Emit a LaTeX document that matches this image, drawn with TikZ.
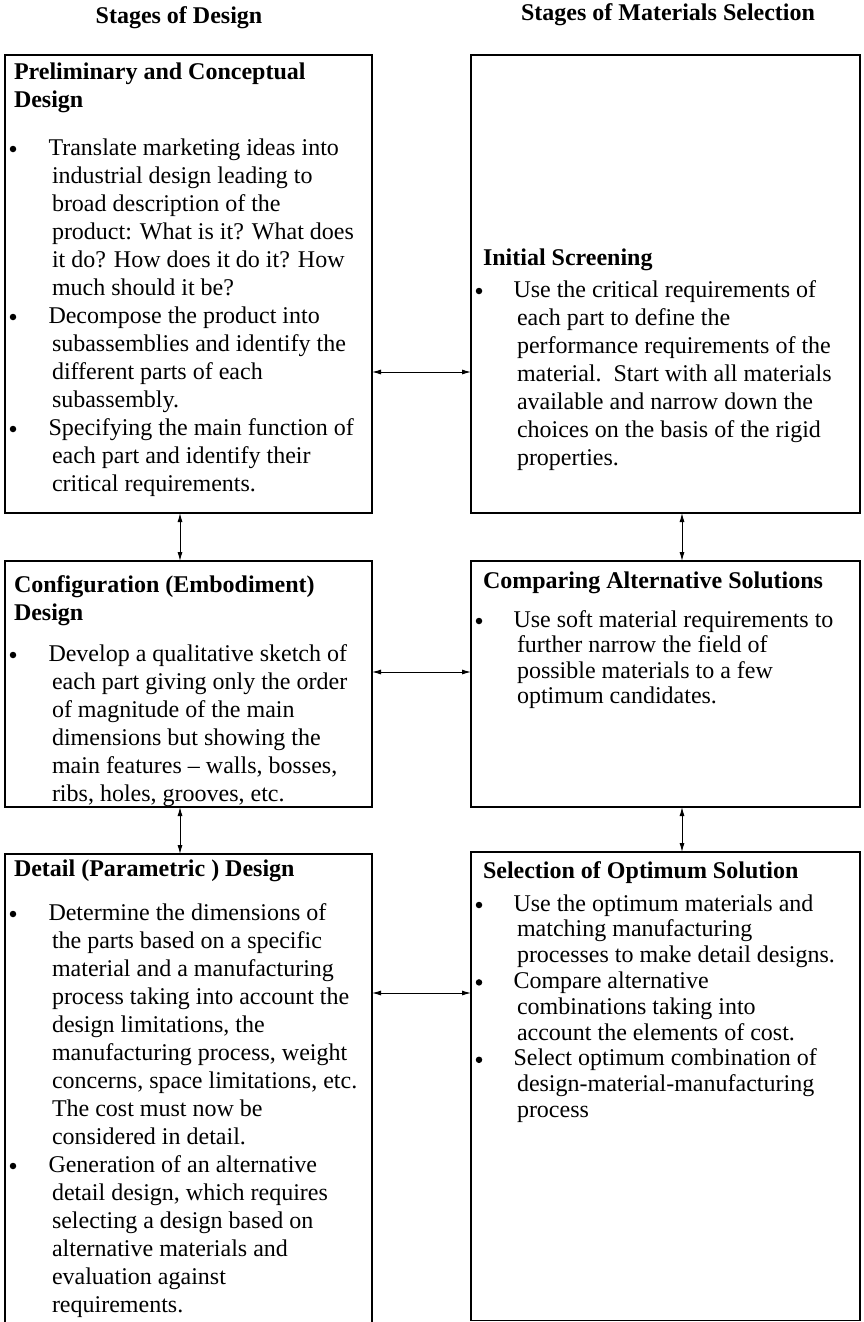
\documentclass[tikz,border=0pt]{standalone}
\usepackage{fontspec}
\setmainfont{Liberation Serif}
\usetikzlibrary{arrows.meta}
\begin{document}
\begin{tikzpicture}[x=1pt,y=-1pt,
  box/.style={draw=black, line width=1.2pt, rectangle, inner sep=0pt, outer sep=0pt, anchor=north west},
  txt/.style={inner sep=0pt, outer sep=0pt, anchor=north west, align=left, font=\fontsize{24}{28}\selectfont},
  txtb/.style={txt, font=\fontsize{24}{28}\selectfont\bfseries},
  txtc/.style={txt, font=\fontsize{24}{25.8}\selectfont},
  txtd/.style={txt, font=\fontsize{24}{25.5}\selectfont},
  hdr/.style={inner sep=0pt, anchor=base, font=\fontsize{24}{28}\selectfont\bfseries},
  dot/.style={circle, fill=black, draw=none, inner sep=0pt, minimum size=6.5pt},
  link/.style={line width=1pt, {Latex[length=9pt,width=5pt]}-{Latex[length=9pt,width=5pt]}}]
\useasboundingbox (0,0) rectangle (863,1322);
\fill[white] (0,0) rectangle (863,1322);

% headers
\node[hdr] (h1) at (179,24) {Stages of Design};
\node[hdr] (h2) at (668,21) {Stages of Materials Selection};

% boxes
\node[box, minimum width=367, minimum height=458] (L1) at (5,55) {};
\node[box, minimum width=389, minimum height=458] (R1) at (471,55) {};
\node[box, minimum width=367, minimum height=246] (L2) at (5,561) {};
\node[box, minimum width=389, minimum height=246] (R2) at (471,561) {};
\node[box, minimum width=367, minimum height=480] (L3) at (5,854) {};
\node[box, minimum width=389, minimum height=468.5] (R3) at (471,852) {};

% box L1
\node[txtb] (L1t) at (14,79-19.6) {\strut Preliminary and Conceptual\\Design};
\node[dot] (L1b1) at (13,149) {};
\node[txt] (L1p1) at (52,155-19.6) {\strut\hspace*{-3.5pt}Translate marketing ideas into\\industrial design leading to\\broad description of the\\product: What is it? What does\\it do? How does it do it? How\\much should it be?};
\node[dot] (L1b2) at (13,317) {};
\node[txt] (L1p2) at (52,323-19.6) {\strut\hspace*{-3.5pt}Decompose the product into\\subassemblies and identify the\\different parts of each\\subassembly.};
\node[dot] (L1b3) at (13,429) {};
\node[txt] (L1p3) at (52,435-19.6) {\strut\hspace*{-3.5pt}Specifying the main function of\\each part and identify their\\critical requirements.};

% box R1
\node[txtb] (R1t) at (483,265-19.6) {\strut Initial Screening};
\node[dot] (R1b1) at (479,291) {};
\node[txt] (R1p1) at (517,297-19.6) {\strut\hspace*{-3.5pt}Use the critical requirements of\\each part to define the\\performance requirements of the\\material.\ \ Start with all materials\\available and narrow down the\\choices on the basis of the rigid\\properties.};

% box R2
\node[txtb] (R2t) at (483,588-19.6) {\strut Comparing Alternative Solutions};
\node[dot] (R2b1) at (479,621) {};
\node[txtd] (R2p1) at (517,627-17.85) {\strut\hspace*{-3.5pt}Use soft material requirements to\\further narrow the field of\\possible materials to a few\\optimum candidates.};

% box L2
\node[txtb] (L2t) at (14,592-19.6) {\strut Configuration (Embodiment)\\Design};
\node[dot] (L2b1) at (13,655) {};
\node[txt] (L2p1) at (52,661-19.6) {\strut\hspace*{-3.5pt}Develop a qualitative sketch of\\each part giving only the order\\of magnitude of the main\\dimensions but showing the\\main features – walls, bosses,\\ribs, holes, grooves, etc.};

% box L3
\node[txtb] (L3t) at (14,876-19.6) {\strut Detail (Parametric ) Design};
\node[dot] (L3b1) at (13,914) {};
\node[txt] (L3p1) at (52,920-19.6) {\strut\hspace*{-3.5pt}Determine the dimensions of\\the parts based on a specific\\material and a manufacturing\\process taking into account the\\design limitations, the\\manufacturing process, weight\\concerns, space limitations, etc.\\The cost must now be\\considered in detail.};
\node[dot] (L3b2) at (13,1166) {};
\node[txt] (L3p2) at (52,1172-19.6) {\strut\hspace*{-3.5pt}Generation of an alternative\\detail design, which requires\\selecting a design based on\\alternative materials and\\evaluation against\\requirements.};

% box R3
\node[txtb] (R3t) at (483,878-19.6) {\strut Selection of Optimum Solution};
\node[dot] (R3b1) at (479,905) {};
\node[txtc] (R3p1) at (517,911-18.06) {\strut\hspace*{-3.5pt}Use the optimum materials and\\matching manufacturing\\processes to make detail designs.};
\node[dot] (R3b2) at (479,982.4) {};
\node[txtc] (R3p2) at (517,988.4-18.06) {\strut\hspace*{-3.5pt}Compare alternative\\combinations taking into\\account the elements of cost.};
\node[dot] (R3b3) at (479,1059.8) {};
\node[txtc] (R3p3) at (517,1065.8-18.06) {\strut\hspace*{-3.5pt}Select optimum combination of\\design-material-manufacturing\\process};

% connector positions
\coordinate (vl) at (180,0);
\coordinate (vr) at (682,0);
\coordinate (hy1) at (0,372);
\coordinate (hy2) at (0,672);
\coordinate (hy3) at (0,993);

% connectors
\draw[link] (L1.east |- hy1) -- (R1.west |- hy1);
\draw[link] (L2.east |- hy2) -- (R2.west |- hy2);
\draw[link] (L3.east |- hy3) -- (R3.west |- hy3);
\draw[link] (L1.south -| vl) -- (L2.north -| vl);
\draw[link] (L2.south -| vl) -- (L3.north -| vl);
\draw[link] (R1.south -| vr) -- (R2.north -| vr);
\draw[link] (R2.south -| vr) -- (R3.north -| vr);
\end{tikzpicture}
\end{document}
